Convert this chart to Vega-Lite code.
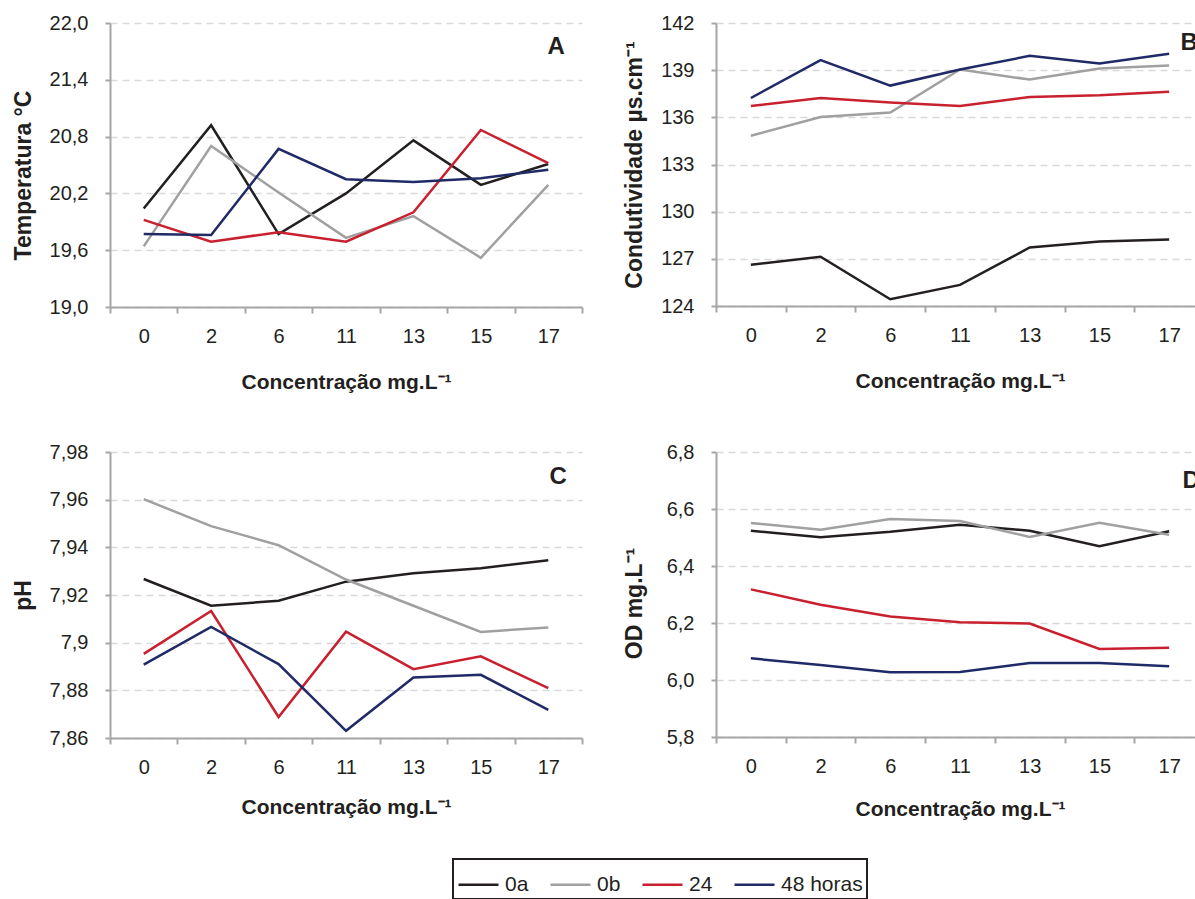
{
  "$schema": "https://vega.github.io/schema/vega-lite/v6.json",
  "background": "white",
  "padding": {"left": 12, "top": 13, "right": 0, "bottom": 0},
  "datasets": {
    "d": [
      {"p":"A","c":0,"s":"0a","v":20.04},{"p":"A","c":2,"s":"0a","v":20.92},{"p":"A","c":6,"s":"0a","v":19.77},{"p":"A","c":11,"s":"0a","v":20.20},{"p":"A","c":13,"s":"0a","v":20.76},{"p":"A","c":15,"s":"0a","v":20.29},{"p":"A","c":17,"s":"0a","v":20.51},
      {"p":"A","c":0,"s":"0b","v":19.64},{"p":"A","c":2,"s":"0b","v":20.70},{"p":"A","c":6,"s":"0b","v":20.21},{"p":"A","c":11,"s":"0b","v":19.73},{"p":"A","c":13,"s":"0b","v":19.96},{"p":"A","c":15,"s":"0b","v":19.52},{"p":"A","c":17,"s":"0b","v":20.29},
      {"p":"A","c":0,"s":"24","v":19.92},{"p":"A","c":2,"s":"24","v":19.69},{"p":"A","c":6,"s":"24","v":19.79},{"p":"A","c":11,"s":"24","v":19.69},{"p":"A","c":13,"s":"24","v":20.00},{"p":"A","c":15,"s":"24","v":20.87},{"p":"A","c":17,"s":"24","v":20.52},
      {"p":"A","c":0,"s":"48 horas","v":19.77},{"p":"A","c":2,"s":"48 horas","v":19.76},{"p":"A","c":6,"s":"48 horas","v":20.67},{"p":"A","c":11,"s":"48 horas","v":20.35},{"p":"A","c":13,"s":"48 horas","v":20.32},{"p":"A","c":15,"s":"48 horas","v":20.36},{"p":"A","c":17,"s":"48 horas","v":20.45},
      {"p":"B","c":0,"s":"0a","v":126.62},{"p":"B","c":2,"s":"0a","v":127.13},{"p":"B","c":6,"s":"0a","v":124.43},{"p":"B","c":11,"s":"0a","v":125.34},{"p":"B","c":13,"s":"0a","v":127.72},{"p":"B","c":15,"s":"0a","v":128.11},{"p":"B","c":17,"s":"0a","v":128.23},
      {"p":"B","c":0,"s":"0b","v":134.83},{"p":"B","c":2,"s":"0b","v":136.02},{"p":"B","c":6,"s":"0b","v":136.30},{"p":"B","c":11,"s":"0b","v":139.04},{"p":"B","c":13,"s":"0b","v":138.40},{"p":"B","c":15,"s":"0b","v":139.11},{"p":"B","c":17,"s":"0b","v":139.30},
      {"p":"B","c":0,"s":"24","v":136.72},{"p":"B","c":2,"s":"24","v":137.23},{"p":"B","c":6,"s":"24","v":136.94},{"p":"B","c":11,"s":"24","v":136.72},{"p":"B","c":13,"s":"24","v":137.30},{"p":"B","c":15,"s":"24","v":137.40},{"p":"B","c":17,"s":"24","v":137.62},
      {"p":"B","c":0,"s":"48 horas","v":137.23},{"p":"B","c":2,"s":"48 horas","v":139.64},{"p":"B","c":6,"s":"48 horas","v":138.02},{"p":"B","c":11,"s":"48 horas","v":139.04},{"p":"B","c":13,"s":"48 horas","v":139.91},{"p":"B","c":15,"s":"48 horas","v":139.43},{"p":"B","c":17,"s":"48 horas","v":140.04},
      {"p":"C","c":0,"s":"0a","v":7.9267},{"p":"C","c":2,"s":"0a","v":7.9155},{"p":"C","c":6,"s":"0a","v":7.9176},{"p":"C","c":11,"s":"0a","v":7.9256},{"p":"C","c":13,"s":"0a","v":7.9291},{"p":"C","c":15,"s":"0a","v":7.9312},{"p":"C","c":17,"s":"0a","v":7.9346},
      {"p":"C","c":0,"s":"0b","v":7.9602},{"p":"C","c":2,"s":"0b","v":7.9489},{"p":"C","c":6,"s":"0b","v":7.9409},{"p":"C","c":11,"s":"0b","v":7.9265},{"p":"C","c":13,"s":"0b","v":7.9155},{"p":"C","c":15,"s":"0b","v":7.9045},{"p":"C","c":17,"s":"0b","v":7.9064},
      {"p":"C","c":0,"s":"24","v":7.8953},{"p":"C","c":2,"s":"24","v":7.9133},{"p":"C","c":6,"s":"24","v":7.8688},{"p":"C","c":11,"s":"24","v":7.9046},{"p":"C","c":13,"s":"24","v":7.8889},{"p":"C","c":15,"s":"24","v":7.8943},{"p":"C","c":17,"s":"24","v":7.8809},
      {"p":"C","c":0,"s":"48 horas","v":7.8908},{"p":"C","c":2,"s":"48 horas","v":7.9066},{"p":"C","c":6,"s":"48 horas","v":7.8910},{"p":"C","c":11,"s":"48 horas","v":7.8630},{"p":"C","c":13,"s":"48 horas","v":7.8854},{"p":"C","c":15,"s":"48 horas","v":7.8865},{"p":"C","c":17,"s":"48 horas","v":7.8718},
      {"p":"D","c":0,"s":"0a","v":6.524},{"p":"D","c":2,"s":"0a","v":6.501},{"p":"D","c":6,"s":"0a","v":6.520},{"p":"D","c":11,"s":"0a","v":6.545},{"p":"D","c":13,"s":"0a","v":6.524},{"p":"D","c":15,"s":"0a","v":6.469},{"p":"D","c":17,"s":"0a","v":6.522},
      {"p":"D","c":0,"s":"0b","v":6.551},{"p":"D","c":2,"s":"0b","v":6.527},{"p":"D","c":6,"s":"0b","v":6.565},{"p":"D","c":11,"s":"0b","v":6.558},{"p":"D","c":13,"s":"0b","v":6.502},{"p":"D","c":15,"s":"0b","v":6.552},{"p":"D","c":17,"s":"0b","v":6.510},
      {"p":"D","c":0,"s":"24","v":6.318},{"p":"D","c":2,"s":"24","v":6.264},{"p":"D","c":6,"s":"24","v":6.223},{"p":"D","c":11,"s":"24","v":6.203},{"p":"D","c":13,"s":"24","v":6.198},{"p":"D","c":15,"s":"24","v":6.109},{"p":"D","c":17,"s":"24","v":6.113},
      {"p":"D","c":0,"s":"48 horas","v":6.076},{"p":"D","c":2,"s":"48 horas","v":6.053},{"p":"D","c":6,"s":"48 horas","v":6.027},{"p":"D","c":11,"s":"48 horas","v":6.028},{"p":"D","c":13,"s":"48 horas","v":6.060},{"p":"D","c":15,"s":"48 horas","v":6.060},{"p":"D","c":17,"s":"48 horas","v":6.048}
    ]
  },
  "config": {
    "view": {"stroke": null},
    "font": "Liberation Sans",
    "axis": {
      "domainColor": "#a6a6a6", "domainWidth": 2,
      "tickColor": "#a6a6a6", "tickWidth": 2,
      "labelFont": "Liberation Sans", "labelFontSize": 20, "labelColor": "#231f20",
      "titleFont": "Liberation Sans", "titleFontSize": 21, "titleFontWeight": "bold", "titleColor": "#231f20",
      "gridColor": "#d9d9d9", "gridDash": [7, 5], "gridWidth": 1.5
    },
    "axisX": {"labelAngle": 0, "grid": false, "tickBand": "extent", "tickSize": 6, "labelPadding": 13, "titlePadding": 25},
    "axisY": {"grid": true, "tickSize": 5, "labelPadding": 17, "titlePadding": 14, "titleFontSize": 23},
    "legend": {"strokeWidth": 2}
  },
  "resolve": {"scale": {"color": "shared"}, "legend": {"color": "shared"}},
  "spacing": 50,
  "vconcat": [
    {
      "spacing": 40,
      "hconcat": [
        {
          "width": 472, "height": 284,
          "layer": [
            {
              "data": {"name": "d"},
              "transform": [{"filter": "datum.p === 'A'"}],
              "mark": {"type": "line", "strokeWidth": 2.5},
              "encoding": {
                "x": {"field": "c", "type": "ordinal", "scale": {"type": "band", "domain": [0,2,6,11,13,15,17], "paddingInner": 0, "paddingOuter": 0}, "axis": {"title": "Concentração mg.L⁻¹"}},
                "y": {"field": "v", "type": "quantitative", "scale": {"domain": [19, 22], "nice": false, "zero": false}, "axis": {"title": "Temperatura °C", "titleY": 152, "values": [19, 19.6, 20.2, 20.8, 21.4, 22], "labelExpr": "replace(format(datum.value, '.1f'), '.', ',')"}},
                "color": {"field": "s", "type": "nominal", "scale": {"domain": ["0a","0b","24","48 horas"], "range": ["#231f20","#a0a0a0","#c8202f","#1f2a66"]},
                  "legend": {"title": null, "orient": "none", "legendX": 343, "legendY": 836, "direction": "horizontal", "symbolType": "stroke", "symbolSize": 1600, "symbolStrokeWidth": 2.5, "labelFontSize": 21, "labelFont": "Liberation Sans", "labelColor": "#231f20", "labelOffset": 5, "columnPadding": 16, "padding": 4, "strokeColor": "#231f20"}}
              }
            },
            {
              "data": {"values": [{"t": "A"}]},
              "mark": {"type": "text", "fontSize": 24, "fontWeight": "bold", "font": "Liberation Sans", "color": "#231f20", "dx": 8, "align": "center", "baseline": "middle"},
              "encoding": {"x": {"datum": 17, "type": "ordinal"}, "y": {"datum": 21.75, "type": "quantitative"}, "text": {"field": "t"}}
            }
          ]
        },
        {
          "width": 488, "height": 283,
          "layer": [
            {
              "data": {"name": "d"},
              "transform": [{"filter": "datum.p === 'B'"}],
              "mark": {"type": "line", "strokeWidth": 2.5},
              "encoding": {
                "x": {"field": "c", "type": "ordinal", "scale": {"type": "band", "domain": [0,2,6,11,13,15,17], "paddingInner": 0, "paddingOuter": 0}, "axis": {"title": "Concentração mg.L⁻¹"}},
                "y": {"field": "v", "type": "quantitative", "scale": {"domain": [124, 142], "nice": false, "zero": false}, "axis": {"title": "Condutividade µs.cm⁻¹", "values": [124, 127, 130, 133, 136, 139, 142], "format": "d"}},
                "color": {"field": "s", "type": "nominal", "scale": {"domain": ["0a","0b","24","48 horas"], "range": ["#231f20","#a0a0a0","#c8202f","#1f2a66"]},
                  "legend": {"title": null, "orient": "none", "legendX": 343, "legendY": 836, "direction": "horizontal", "symbolType": "stroke", "symbolSize": 1600, "symbolStrokeWidth": 2.5, "labelFontSize": 21, "labelFont": "Liberation Sans", "labelColor": "#231f20", "labelOffset": 5, "columnPadding": 16, "padding": 4, "strokeColor": "#231f20"}}
              }
            },
            {
              "data": {"values": [{"t": "B"}]},
              "mark": {"type": "text", "fontSize": 24, "fontWeight": "bold", "font": "Liberation Sans", "color": "#231f20", "dx": 20, "align": "center", "baseline": "middle"},
              "encoding": {"x": {"datum": 17, "type": "ordinal"}, "y": {"datum": 140.7, "type": "quantitative"}, "text": {"field": "t"}}
            }
          ]
        }
      ]
    },
    {
      "spacing": 40,
      "hconcat": [
        {
          "width": 472, "height": 286,
          "layer": [
            {
              "data": {"name": "d"},
              "transform": [{"filter": "datum.p === 'C'"}],
              "mark": {"type": "line", "strokeWidth": 2.5},
              "encoding": {
                "x": {"field": "c", "type": "ordinal", "scale": {"type": "band", "domain": [0,2,6,11,13,15,17], "paddingInner": 0, "paddingOuter": 0}, "axis": {"title": "Concentração mg.L⁻¹", "titlePadding": 19}},
                "y": {"field": "v", "type": "quantitative", "scale": {"domain": [7.86, 7.98], "nice": false, "zero": false}, "axis": {"title": "pH", "values": [7.86, 7.88, 7.9, 7.92, 7.94, 7.96, 7.98], "labelExpr": "replace(format(datum.value, '.2~f'), '.', ',')"}},
                "color": {"field": "s", "type": "nominal", "scale": {"domain": ["0a","0b","24","48 horas"], "range": ["#231f20","#a0a0a0","#c8202f","#1f2a66"]},
                  "legend": {"title": null, "orient": "none", "legendX": 343, "legendY": 836, "direction": "horizontal", "symbolType": "stroke", "symbolSize": 1600, "symbolStrokeWidth": 2.5, "labelFontSize": 21, "labelFont": "Liberation Sans", "labelColor": "#231f20", "labelOffset": 5, "columnPadding": 16, "padding": 4, "strokeColor": "#231f20"}}
              }
            },
            {
              "data": {"values": [{"t": "C"}]},
              "mark": {"type": "text", "fontSize": 24, "fontWeight": "bold", "font": "Liberation Sans", "color": "#231f20", "dx": 10, "align": "center", "baseline": "middle"},
              "encoding": {"x": {"datum": 17, "type": "ordinal"}, "y": {"datum": 7.9695, "type": "quantitative"}, "text": {"field": "t"}}
            }
          ]
        },
        {
          "width": 488, "height": 285,
          "layer": [
            {
              "data": {"name": "d"},
              "transform": [{"filter": "datum.p === 'D'"}],
              "mark": {"type": "line", "strokeWidth": 2.5},
              "encoding": {
                "x": {"field": "c", "type": "ordinal", "scale": {"type": "band", "domain": [0,2,6,11,13,15,17], "paddingInner": 0, "paddingOuter": 0}, "axis": {"title": "Concentração mg.L⁻¹", "titlePadding": 22}},
                "y": {"field": "v", "type": "quantitative", "scale": {"domain": [5.8, 6.8], "nice": false, "zero": false}, "axis": {"title": "OD mg.L⁻¹", "titlePadding": 20, "titleY": 151, "values": [5.8, 6.0, 6.2, 6.4, 6.6, 6.8], "labelExpr": "replace(format(datum.value, '.1f'), '.', ',')"}},
                "color": {"field": "s", "type": "nominal", "scale": {"domain": ["0a","0b","24","48 horas"], "range": ["#231f20","#a0a0a0","#c8202f","#1f2a66"]},
                  "legend": {"title": null, "orient": "none", "legendX": 343, "legendY": 836, "direction": "horizontal", "symbolType": "stroke", "symbolSize": 1600, "symbolStrokeWidth": 2.5, "labelFontSize": 21, "labelFont": "Liberation Sans", "labelColor": "#231f20", "labelOffset": 5, "columnPadding": 16, "padding": 4, "strokeColor": "#231f20"}}
              }
            },
            {
              "data": {"values": [{"t": "D"}]},
              "mark": {"type": "text", "fontSize": 24, "fontWeight": "bold", "font": "Liberation Sans", "color": "#231f20", "dx": 22, "align": "center", "baseline": "middle"},
              "encoding": {"x": {"datum": 17, "type": "ordinal"}, "y": {"datum": 6.70, "type": "quantitative"}, "text": {"field": "t"}}
            }
          ]
        }
      ]
    }
  ]
}
